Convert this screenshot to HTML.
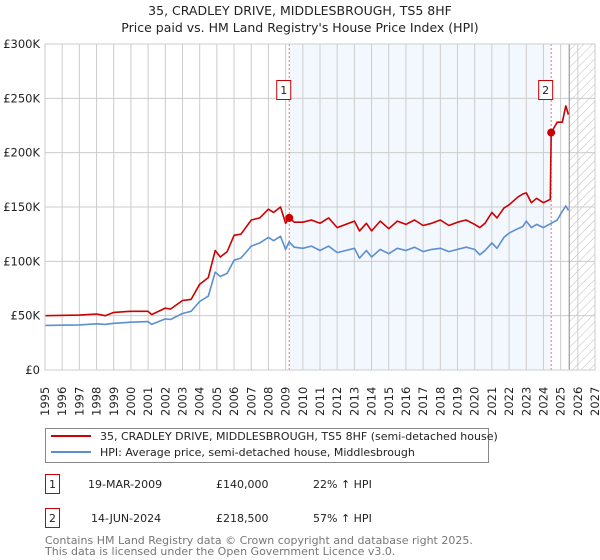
<!DOCTYPE html>
<html><head><meta charset="utf-8"><style>
body{margin:0;background:#fff;font-family:"Liberation Sans","DejaVu Sans",sans-serif;}
svg{display:block}
</style></head><body>
<svg id="c" width="600" height="560" xmlns="http://www.w3.org/2000/svg" font-family="'DejaVu Sans','Liberation Sans',sans-serif">
<text x="300" y="15" text-anchor="middle" font-size="12.5" fill="#222">35, CRADLEY DRIVE, MIDDLESBROUGH, TS5 8HF</text>
<text x="300" y="32" text-anchor="middle" font-size="12.5" fill="#222">Price paid vs. HM Land Registry's House Price Index (HPI)</text>
<g id="plot"></g>
<g>
<rect x="45.5" y="428.5" width="443" height="34" fill="#fff" stroke="#888"/>
<line x1="51" y1="436" x2="91" y2="436" stroke="#cc0000" stroke-width="2"/>
<text x="100" y="440" font-size="11" fill="#222">35, CRADLEY DRIVE, MIDDLESBROUGH, TS5 8HF (semi-detached house)</text>
<line x1="51" y1="452" x2="91" y2="452" stroke="#5b8fd0" stroke-width="2"/>
<text x="100" y="456" font-size="11" fill="#222">HPI: Average price, semi-detached house, Middlesbrough</text>
</g>
<g font-size="11" fill="#222">
<rect x="45.5" y="474.5" width="14" height="19" fill="#fff" stroke="#cc0000"/>
<text x="52.5" y="488" text-anchor="middle">1</text>
<text x="88" y="488">19-MAR-2009</text><text x="216" y="488">£140,000</text><text x="313" y="488">22% ↑ HPI</text>
<rect x="45.5" y="508.5" width="14" height="19" fill="#fff" stroke="#cc0000"/>
<text x="52.5" y="522" text-anchor="middle">2</text>
<text x="91" y="522">14-JUN-2024</text><text x="216" y="522">£218,500</text><text x="313" y="522">57% ↑ HPI</text>
</g>
<text x="45" y="544" font-size="11" fill="#777">Contains HM Land Registry data © Crown copyright and database right 2025.</text>
<text x="45" y="555" font-size="11" fill="#777">This data is licensed under the Open Government Licence v3.0.</text>
</svg>
<script>
const yTicks=[0,50,100,150,200,250,300];
const yTickLabels=["£0","£50K","£100K","£150K","£200K","£250K","£300K"];
const years=[1995,1996,1997,1998,1999,2000,2001,2002,2003,2004,2005,2006,2007,2008,2009,2010,2011,2012,2013,2014,2015,2016,2017,2018,2019,2020,2021,2022,2023,2024,2025,2026,2027];
const redT=[1995,1997,1998,1998.5,1999,2000,2001,2001.2,2002,2002.3,2003,2003.5,2004,2004.5,2004.9,2005.2,2005.6,2006,2006.4,2007,2007.5,2008,2008.3,2008.7,2009,2009.2,2009.5,2010,2010.5,2011,2011.5,2012,2012.5,2013,2013.3,2013.7,2014,2014.5,2015,2015.5,2016,2016.5,2017,2017.5,2018,2018.5,2019,2019.5,2020,2020.3,2020.6,2021,2021.3,2021.7,2022,2022.5,2022.8,2023,2023.3,2023.6,2024,2024.4,2024.45,2024.8,2025.1,2025.3,2025.45];
const redV=[50,50.5,51.5,50,53,54,54,51,57,56,64,65,79,85,110,104,109,124,125,138,140,148,145,150,135,140,136,136,138,135,140,131,134,137,128,135,128,137,130,137,134,138,133,135,138,133,136,138,134,131,135,145,140,149,152,159,162,163,154,158,154,157,218.5,228,228,243,235];
const hpiT=[1995,1997,1998,1998.5,1999,2000,2001,2001.2,2002,2002.3,2003,2003.5,2004,2004.5,2004.9,2005.2,2005.6,2006,2006.4,2007,2007.5,2008,2008.3,2008.7,2009,2009.2,2009.5,2010,2010.5,2011,2011.5,2012,2012.5,2013,2013.3,2013.7,2014,2014.5,2015,2015.5,2016,2016.5,2017,2017.5,2018,2018.5,2019,2019.5,2020,2020.3,2020.6,2021,2021.3,2021.7,2022,2022.5,2022.8,2023,2023.3,2023.6,2024,2024.45,2024.8,2025.1,2025.3,2025.45];
const hpiV=[41,41.5,42.5,42,43,44,44.5,42,47,46.5,52,54,63,68,90,86,89,101,103,114,117,122,119,123,111,118,113,112,114,110,114,108,110,112,103,110,104,111,107,112,110,113,109,111,112,109,111,113,111,106,110,117,112,122,126,130,132,137,131,134,131,135,138,146,151,147];
const sales=[{n:"1",t:2009.21,v:140},{n:"2",t:2024.45,v:218.5}];
const X0=45,X1=595,Y0=370,Y1=44;
const xs=t=>X0+(t-1995)/32*(X1-X0);
const ys=v=>Y0-v/300*(Y0-Y1);
const NS="http://www.w3.org/2000/svg";
const g=document.getElementById('plot');
function el(tag,attrs,parent){const e=document.createElementNS(NS,tag);for(const k in attrs)e.setAttribute(k,attrs[k]);(parent||g).appendChild(e);return e;}
// shading between sales
const sh=el('rect',{x:xs(sales[0].t),y:Y1,width:xs(sales[1].t)-xs(sales[0].t),height:Y0-Y1,fill:'#eef3fd',opacity:0.7});


// hatch
const defs=el('defs',{});
const pat=el('pattern',{id:'h',width:6,height:6,patternUnits:'userSpaceOnUse',patternTransform:'rotate(45)'},defs);
el('line',{x1:0,y1:0,x2:0,y2:6,stroke:'#bbb','stroke-width':1},pat);
const hx=xs(2025.5);
const ht=el('rect',{x:hx,y:Y1,width:X1-hx,height:Y0-Y1,fill:'url(#h)'});


// grid
years.forEach(y=>{const l=el('line',{x1:xs(y),y1:Y1,x2:xs(y),y2:Y0,stroke:'#ccc','stroke-width':1});


const t=el('text',{x:0,y:0,transform:`translate(${xs(y)+4},${Y0+46}) rotate(-90)`,'font-size':11.5,fill:'#222'});t.textContent=y;

});
yTicks.forEach((v,i)=>{const l=el('line',{x1:X0,y1:ys(v),x2:X1,y2:ys(v),stroke:'#ccc','stroke-width':1});


const t=el('text',{x:X0-5,y:ys(v)+4,'text-anchor':'end','font-size':11.5,fill:'#222'});t.textContent=yTickLabels[i];

});
const vl=el('line',{x1:hx,y1:Y1,x2:hx,y2:Y0,stroke:'#888','stroke-width':1});


sales.forEach(s=>{const l=el('line',{x1:xs(s.t),y1:Y1,x2:xs(s.t),y2:Y0,stroke:'#f07070','stroke-width':1,'stroke-dasharray':'2,2'});

});
function line(T,V,c,name){const d=T.map((t,i)=>(i?'L':'M')+xs(t).toFixed(1)+','+ys(V[i]).toFixed(1)).join('');
const p=el('path',{d:d,fill:'none',stroke:c,'stroke-width':1.6,'stroke-linejoin':'round'});

}
line(hpiT,hpiV,'#5b8fd0','hpi-line');
line(redT,redV,'#cc0000','price-paid-line');
sales.forEach(s=>{const c=el('circle',{cx:xs(s.t),cy:ys(s.v),r:4,fill:'#cc0000'});


const bx=xs(s.t)-13;
const r=el('rect',{x:bx+0.5,y:80.5,width:14,height:19,fill:'#fff',stroke:'#cc0000'});


const t=el('text',{x:bx+7.5,y:94,'text-anchor':'middle','font-size':11,fill:'#222'});t.textContent=s.n;

});
const fr=el('rect',{x:X0,y:Y1,width:X1-X0,height:Y0-Y1,fill:'none',stroke:'#ccc'});


</script>
</body></html>
